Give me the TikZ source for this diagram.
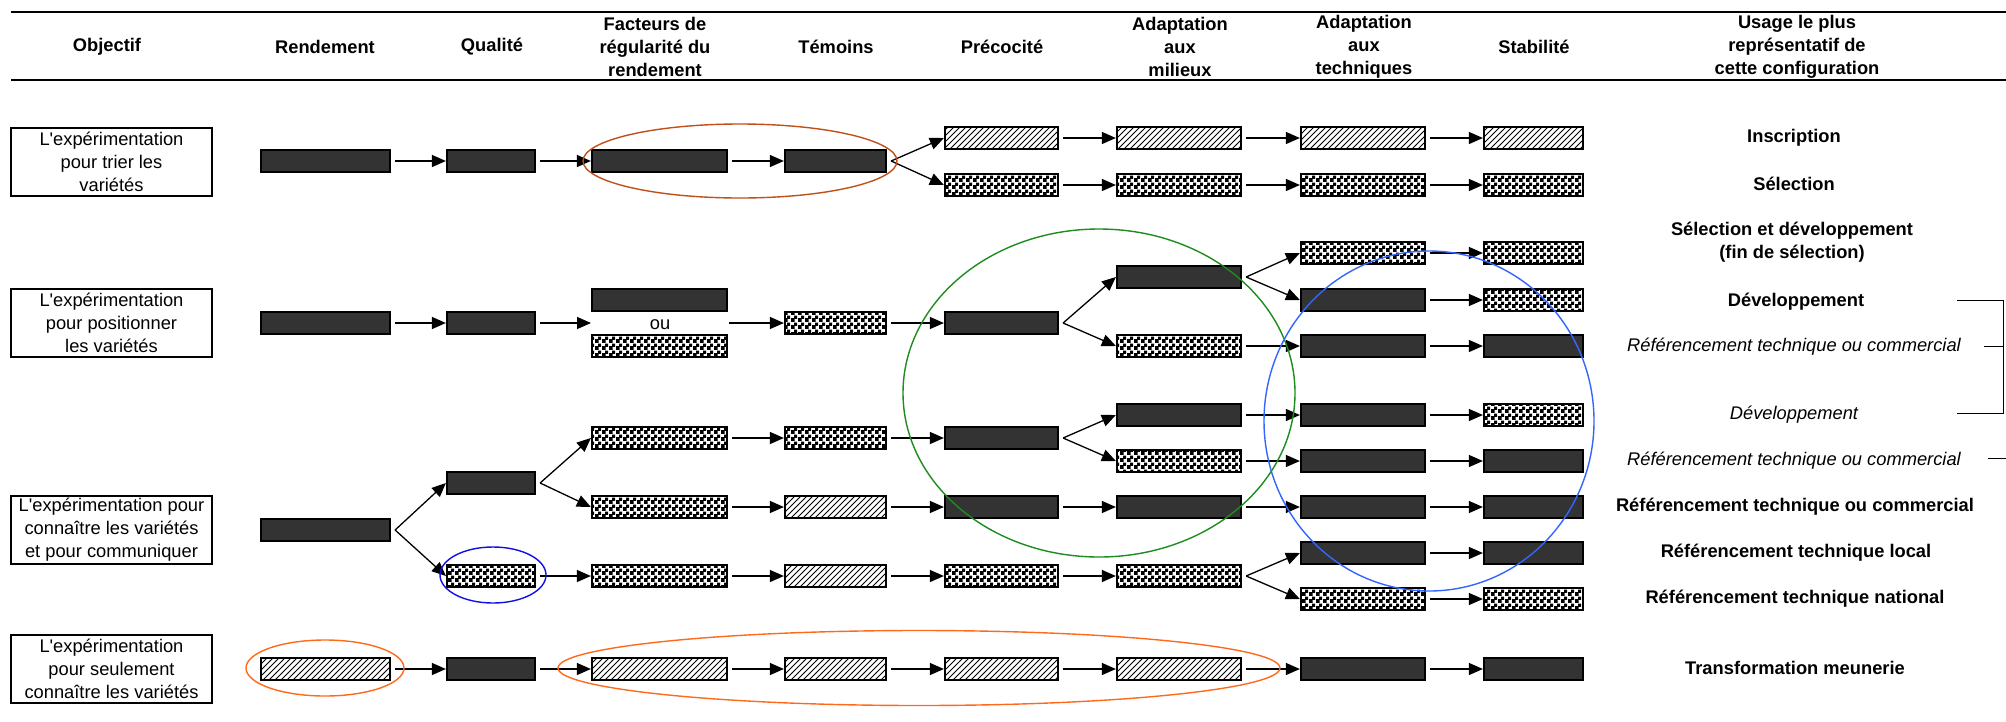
\documentclass[tikz,border=0pt]{standalone}
\usepackage{fontspec}
\setmainfont{Liberation Sans}
\usetikzlibrary{arrows.meta,patterns}
\pgfdeclarepatternformonly{myhatch}{\pgfqpoint{-1pt}{-1pt}}{\pgfqpoint{7pt}{7pt}}{\pgfqpoint{6pt}{6pt}}{\pgfsetlinewidth{1pt}\pgfpathmoveto{\pgfqpoint{0pt}{0pt}}\pgfpathlineto{\pgfqpoint{6.1pt}{6.1pt}}\pgfusepath{stroke}}
\pgfdeclarepatternformonly{mycheck}{\pgfpointorigin}{\pgfqpoint{7pt}{7pt}}{\pgfqpoint{7pt}{7pt}}{\pgfpathrectangle{\pgfpointorigin}{\pgfqpoint{4.2pt}{4.2pt}}\pgfpathrectangle{\pgfqpoint{3.5pt}{3.5pt}}{\pgfqpoint{3.5pt}{3.5pt}}\pgfusepath{fill}}
\definecolor{barfill}{HTML}{333333}
\definecolor{brn}{HTML}{C0501A}
\definecolor{grn}{HTML}{1E8C1E}
\definecolor{lblue}{HTML}{3366FF}
\definecolor{dblue}{HTML}{1010E6}
\definecolor{orng}{HTML}{FF6A1A}
\newcommand\fsz{\fontsize{18.3}{23}\selectfont}
\newcommand\Lexp{L\textquotesingle expérimentation}
\def\xcA{325.5}\def\xcB{491}\def\xcC{659.5}\def\xcD{835.5}
\def\xcE{1001.5}\def\xcF{1179}\def\xcG{1363}\def\xcH{1533.5}
\newcommand\bx[4]{\node[#1,w#3] (#2) at (\csname xc#3\endcsname,#4) {};}
\newcommand\arw[2]{\draw[arr] ([xshift=4pt]#1.east) -- (#2.west);}
\tikzset{
  barbox/.style={rectangle, draw=black, line width=2.2pt, inner sep=0pt, minimum height=22pt},
  dk/.style={barbox, fill=barfill},
  ht/.style={barbox, pattern=myhatch},
  ck/.style={barbox, pattern=mycheck},
  wA/.style={minimum width=129pt}, wB/.style={minimum width=88pt},
  wC/.style={minimum width=135pt}, wD/.style={minimum width=101pt},
  wE/.style={minimum width=113pt}, wF/.style={minimum width=124pt},
  wG/.style={minimum width=124pt}, wH/.style={minimum width=99pt},
  arr/.style={line width=1.3pt, -{Triangle[length=14pt,width=12pt]}},
  hd/.style={font=\fsz\bfseries, align=center, inner sep=0pt},
  us/.style={font=\fsz\bfseries, align=center, inner sep=0pt},
  ui/.style={font=\fsz\itshape, align=center, inner sep=0pt},
  obj/.style={rectangle, draw=black, line width=2pt, minimum width=201pt, minimum height=68pt, align=center, inner sep=0pt, font=\fsz},
  ring/.style={line width=1.4pt},
}
\begin{document}
\begin{tikzpicture}[x=1pt, y=-1pt, font=\fsz]
\fill[white] (0,0) rectangle (2006,721);
\useasboundingbox (0,0) rectangle (2006,721);
% header
\draw[line width=2.2pt] (11,12) -- (2006,12);
\draw[line width=2.6pt] (11,80) -- (2006,80);
\node[hd] (hObj) at (107,47) {Objectif};
\node[hd] (hRen) at (325,47) {Rendement};
\node[hd] (hQua) at (492,47) {Qualité};
\node[hd] (hFac) at (655,47) {Facteurs de\\régularité du\\rendement};
\node[hd] (hTem) at (836,47) {Témoins};
\node[hd] (hPre) at (1002,47) {Précocité};
\node[hd] (hMil) at (1180,47) {Adaptation\\aux\\milieux};
\node[hd] (hTec) at (1364,47) {Adaptation\\aux\\techniques};
\node[hd] (hSta) at (1534,47) {Stabilité};
\node[hd] (hUsa) at (1797,47) {Usage le plus\\représentatif de\\cette configuration};
% objective boxes
\node[obj] (o1) at (111.5,161.5) {\Lexp\\pour trier les\\variétés};
\node[obj] (o2) at (111.5,323) {\Lexp\\pour positionner\\les variétés};
\node[obj] (o3) at (111.5,530) {\Lexp{} pour\\connaître les variétés\\et pour communiquer};
\node[obj] (o4) at (111.5,668.5) {\Lexp\\pour seulement\\connaître les variétés};
% row 1
\bx{dk}{r1a}{A}{161}\bx{dk}{r1b}{B}{161}\bx{dk}{r1c}{C}{161}\bx{dk}{r1d}{D}{161}
\bx{ht}{r1e1}{E}{138}\bx{ht}{r1f1}{F}{138}\bx{ht}{r1g1}{G}{138}\bx{ht}{r1h1}{H}{138}
\bx{ck}{r1e2}{E}{185}\bx{ck}{r1f2}{F}{185}\bx{ck}{r1g2}{G}{185}\bx{ck}{r1h2}{H}{185}
\arw{r1a}{r1b}\arw{r1b}{r1c}\arw{r1c}{r1d}
\arw{r1d}{r1e1}\arw{r1d}{r1e2}
\arw{r1e1}{r1f1}\arw{r1f1}{r1g1}\arw{r1g1}{r1h1}
\arw{r1e2}{r1f2}\arw{r1f2}{r1g2}\arw{r1g2}{r1h2}
\node[us] (u1) at (1794,138) {Inscription};
\node[us] (u2) at (1794,184) {Sélection};
% row 2
\bx{dk}{r2a}{A}{323}\bx{dk}{r2b}{B}{323}
\bx{dk}{r2c1}{C}{300}\bx{ck}{r2c2}{C}{346}
\node[inner sep=0pt] (ou) at (660,325) {ou};
\coordinate (ouL) at (591,323);
\coordinate (ouR) at (729,323);
\bx{ck}{r2d}{D}{323}\bx{dk}{r2e}{E}{323}
\bx{dk}{r2f1}{F}{277}\bx{ck}{r2f2}{F}{346}
\bx{ck}{r2g1}{G}{253}\bx{dk}{r2g2}{G}{300}\bx{dk}{r2g3}{G}{346}
\bx{ck}{r2h1}{H}{253}\bx{ck}{r2h2}{H}{300}\bx{dk}{r2h3}{H}{346}
\arw{r2a}{r2b}
\draw[arr] ([xshift=4pt]r2b.east) -- (ouL);
\draw[arr] (ouR) -- (r2d.west);
\arw{r2d}{r2e}
\arw{r2e}{r2f1}\arw{r2e}{r2f2}
\arw{r2f1}{r2g1}\arw{r2f1}{r2g2}\arw{r2f2}{r2g3}
\arw{r2g1}{r2h1}\arw{r2g2}{r2h2}\arw{r2g3}{r2h3}
\node[us] (u3) at (1792,242.5) {Sélection et développement\\(fin de sélection)};
\node[us] (u4) at (1796,302) {Développement};
\node[ui] (u5) at (1794,347) {Référencement technique ou commercial};
\node[ui] (u6) at (1794,415) {Développement};
\node[ui] (u7) at (1794,461) {Référencement technique ou commercial};
\draw[line width=1pt] (1957,300) -- (2003,300) -- (2003,413) -- (1957,413);
\draw[line width=1pt] (1984,346) -- (2003,346);
\draw[line width=1pt] (1988,458) -- (2006,458);
% row 3
\bx{dk}{r3a}{A}{530}
\bx{dk}{r3b1}{B}{483}\bx{ck}{r3b2}{B}{576}
\bx{ck}{r3c1}{C}{438}\bx{ck}{r3c2}{C}{507}\bx{ck}{r3c3}{C}{576}
\bx{ck}{r3d1}{D}{438}\bx{ht}{r3d2}{D}{507}\bx{ht}{r3d3}{D}{576}
\bx{dk}{r3e1}{E}{438}\bx{dk}{r3e2}{E}{507}\bx{ck}{r3e3}{E}{576}
\bx{dk}{r3f1}{F}{415}\bx{ck}{r3f2}{F}{461}\bx{dk}{r3f3}{F}{507}\bx{ck}{r3f4}{F}{576}
\bx{dk}{r3g1}{G}{415}\bx{dk}{r3g2}{G}{461}\bx{dk}{r3g3}{G}{507}\bx{dk}{r3g4}{G}{553}\bx{ck}{r3g5}{G}{599}
\bx{ck}{r3h1}{H}{415}\bx{dk}{r3h2}{H}{461}\bx{dk}{r3h3}{H}{507}\bx{dk}{r3h4}{H}{553}\bx{ck}{r3h5}{H}{599}
\arw{r3a}{r3b1}\arw{r3a}{r3b2}
\arw{r3b1}{r3c1}\arw{r3b1}{r3c2}\arw{r3b2}{r3c3}
\arw{r3c1}{r3d1}\arw{r3d1}{r3e1}
\arw{r3e1}{r3f1}\arw{r3e1}{r3f2}
\arw{r3f1}{r3g1}\arw{r3g1}{r3h1}
\arw{r3f2}{r3g2}\arw{r3g2}{r3h2}
\arw{r3c2}{r3d2}\arw{r3d2}{r3e2}\arw{r3e2}{r3f3}\arw{r3f3}{r3g3}\arw{r3g3}{r3h3}
\arw{r3c3}{r3d3}\arw{r3d3}{r3e3}\arw{r3e3}{r3f4}
\arw{r3f4}{r3g4}\arw{r3f4}{r3g5}
\arw{r3g4}{r3h4}\arw{r3g5}{r3h5}
\node[us] (u8) at (1795,507) {Référencement technique ou commercial};
\node[us] (u9) at (1796,553) {Référencement technique local};
\node[us] (u10) at (1795,599) {Référencement technique national};
% row 4
\bx{ht}{r4a}{A}{669}\bx{dk}{r4b}{B}{669}\bx{ht}{r4c}{C}{669}\bx{ht}{r4d}{D}{669}
\bx{ht}{r4e}{E}{669}\bx{ht}{r4f}{F}{669}\bx{dk}{r4g}{G}{669}\bx{dk}{r4h}{H}{669}
\arw{r4a}{r4b}\arw{r4b}{r4c}\arw{r4c}{r4d}\arw{r4d}{r4e}\arw{r4e}{r4f}\arw{r4f}{r4g}\arw{r4g}{r4h}
\node[us] (u11) at (1795,668) {Transformation meunerie};
% rings
\draw[ring, brn] (740,161) ellipse [x radius=157pt, y radius=37pt];
\draw[ring, dblue] (493,575) ellipse [x radius=53pt, y radius=28pt];
\draw[ring, orng] (325,668) ellipse [x radius=79pt, y radius=28pt];
\draw[ring, orng] (919,668) ellipse [x radius=361pt, y radius=37.5pt];
\draw[ring, grn] (1099,393) ellipse [x radius=196pt, y radius=164pt];
\draw[ring, lblue] (1429,421) ellipse [x radius=165pt, y radius=170pt];
\end{tikzpicture}
\end{document}
